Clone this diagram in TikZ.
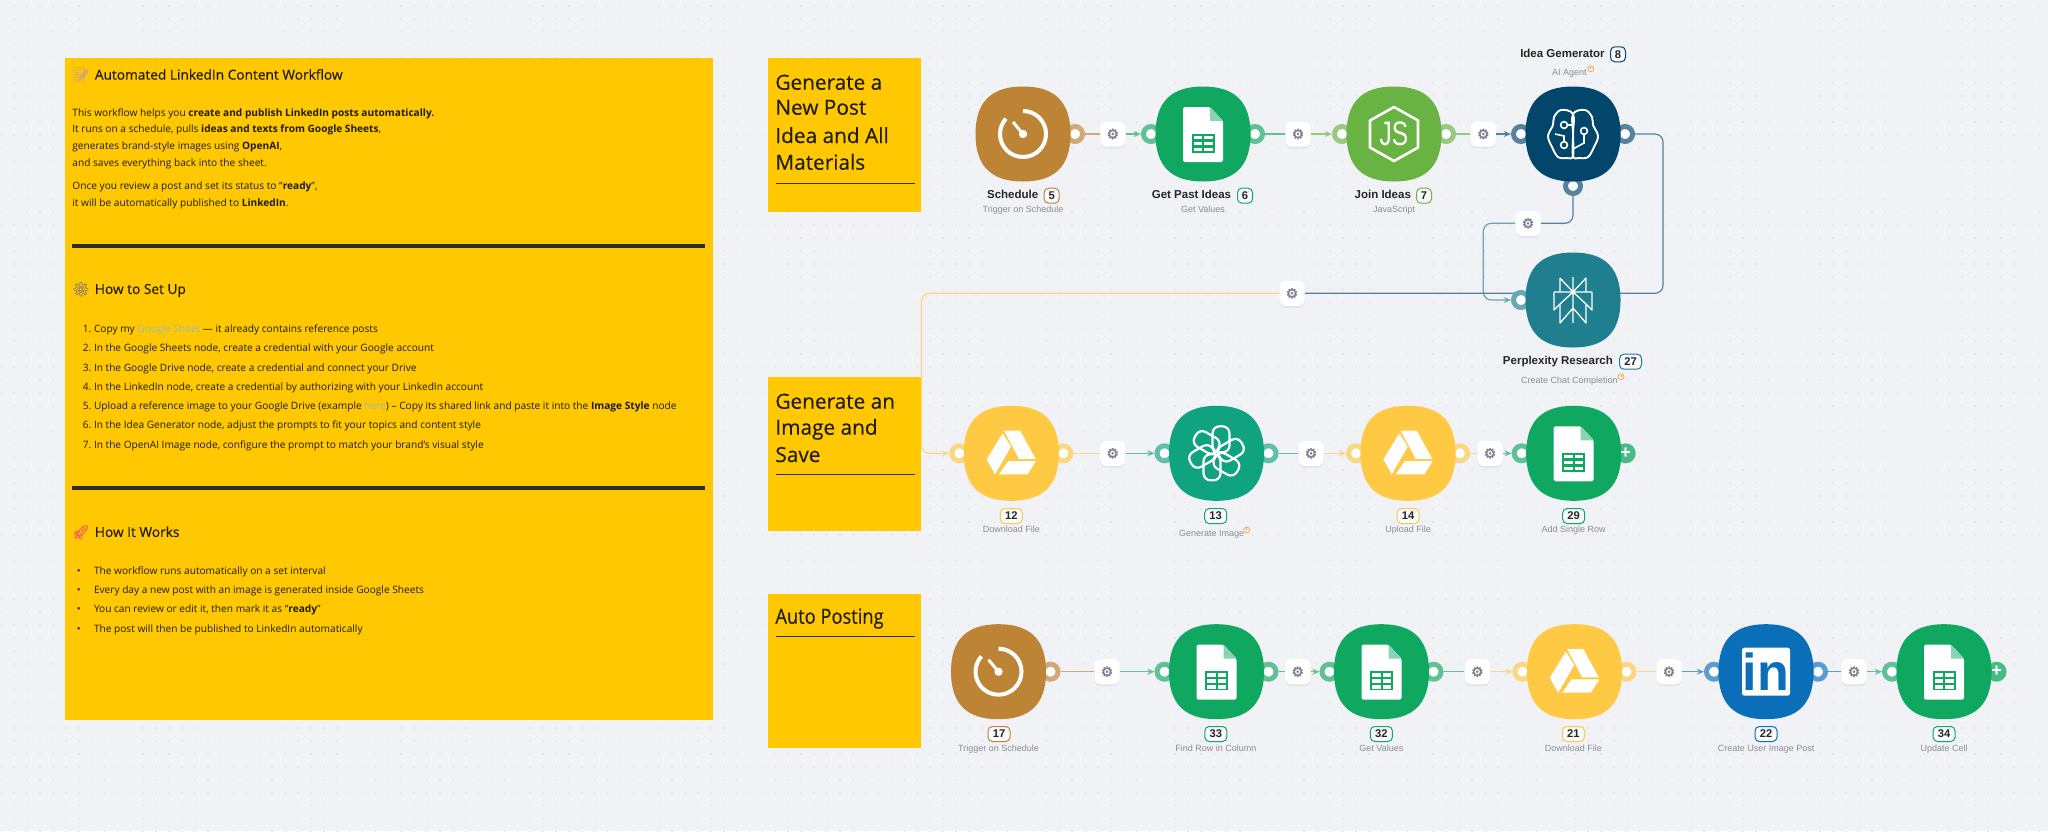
\documentclass[tikz,border=0pt]{standalone}
\usepackage{fontspec}
\setmainfont{Open Sans}
\newfontfamily\headfont[FakeBold=.35]{Open Sans}
\newfontfamily\labelfont{Liberation Sans}
\newfontfamily\emojifont[FakeBold=.8]{Noto Emoji}
\newfontfamily\symbfont[FakeBold=1.6]{DejaVu Sans}
\usetikzlibrary{calc,positioning,arrows.meta,shadows}

\definecolor{paper}{HTML}{F1F2F6}
\definecolor{paperdot}{HTML}{E6E8EE}
\definecolor{sticker}{HTML}{FFC800}
\definecolor{inkdark}{HTML}{1F1C10}
\definecolor{rulecol}{HTML}{2E2D28}
\definecolor{linkcol}{HTML}{9FB9B0}
\definecolor{clockcol}{HTML}{BC8434}
\definecolor{sheetcol}{HTML}{10A761}
\definecolor{foldcol}{HTML}{8AD3B0}
\definecolor{jscol}{HTML}{69B342}
\definecolor{agentcol}{HTML}{03466B}
\definecolor{perplexcol}{HTML}{1F7F8F}
\definecolor{drivecol}{HTML}{FFC944}
\definecolor{openaicol}{HTML}{10A37F}
\definecolor{linkedcol}{HTML}{0A6FB8}
\definecolor{gearcol}{HTML}{7D8090}
\definecolor{subcol}{HTML}{8A8C94}
\definecolor{warncol}{HTML}{F2A03D}

\pgfdeclarelayer{paperlayer}
\pgfdeclarelayer{wires}
\pgfsetlayers{paperlayer,wires,main}

\tikzset{
  stickerbox/.style={fill=sticker, minimum width=76.6pt, minimum height=76.7pt, inner sep=0, outer sep=0},
  bodyline/.style={anchor=west, inner sep=0, text=inkdark, text height=4pt, text depth=1.2pt, font=\fontsize{5.07}{6}\selectfont},
  panelhead/.style={anchor=west, inner sep=0, text=inkdark, text height=5pt, text depth=1.4pt, font=\headfont\fontsize{6.85}{8}\selectfont},
  emoji/.style={inner sep=0, font=\emojifont\fontsize{7}{8}\selectfont},
  stickerhead/.style={anchor=west, inner sep=0, text=inkdark, text height=8pt, text depth=2pt, font=\headfont\fontsize{10.4}{12}\selectfont},
  blobbox/.style={rectangle, minimum size=52pt, inner sep=0, outer sep=0},
  port/.style={circle, fill=white, draw=#1!65!paper, line width=2.5pt, minimum size=7.5pt, inner sep=0},
  plusnode/.style={circle, fill=#1!75!paper, minimum size=10pt, inner sep=0, text=white, font=\labelfont\bfseries\fontsize{9}{9}\selectfont},
  gearbox/.style={rectangle, fill=white, rounded corners=3pt, minimum size=12.5pt, inner sep=0,
    text=gearcol, font=\symbfont\fontsize{7}{7}\selectfont,
    drop shadow={opacity=.10, shadow xshift=0pt, shadow yshift=-1pt}},
  wire/.style={draw=#1!65!paper, line width=.6pt},
  tip/.style={-{Stealth[length=3.6pt,width=3pt]}},
  nodetitle/.style={anchor=east, inner sep=0, text=black!85, text height=4.2pt, text depth=1pt, font=\labelfont\bfseries\fontsize{5.75}{7}\selectfont},
  nodesub/.style={inner sep=0, text=subcol, text height=3.4pt, text depth=1pt, font=\labelfont\fontsize{4.5}{6}\selectfont},
  badge/.style={draw=#1, fill=white!60!paper, rounded corners=2.2pt, line width=.5pt, minimum height=7.5pt, minimum width=7.5pt, inner sep=0,
    text=black!85, font=\labelfont\bfseries\fontsize{5.6}{6}\selectfont},
  widebadge/.style={badge=#1, minimum width=11pt},
  warnicon/.pic={
    \draw[warncol, line width=.35pt] (0,0) circle (1.5pt);
    \draw[warncol, line width=.35pt] (0,-1.6) -- (0,.4);
  },
  clockicon/.pic={
    \draw[white, line width=2pt] (0,-23) arc[start angle=90, end angle=-222, radius=11.5pt];
    \draw[white, line width=1.5pt] (0,0) -- (-10,-12);
    \fill[white] (0,0) circle (2.1pt);
  },
  sheeticon/.pic={
    \fill[white, rounded corners=.8pt] (-20,-27) -- (7,-27) -- (20,-13) -- (20,28) -- (-20,28) -- cycle;
    \fill[foldcol] (7,-27) -- (20,-13) -- (7,-13) -- cycle;
    \fill[sheetcol] (-11.5,-.5) rectangle (11.5,18.5);
    \foreach \x/\y in {-9.5/1.5,1/1.5,-9.5/7.5,1/7.5,-9.5/13.5,1/13.5}
      \fill[white] (\x,\y) rectangle ++(8.5,3.5);
  },
  driveicon/.pic={
    \fill[white] (-7.3,-22.7) -- (8.7,-22.7) -- (24.3,5.7) -- (7.7,5.7) -- cycle;
    \fill[white] (-8.7,-20) -- (-24.7,6) -- (-16.3,21) -- (-.3,-6.7) -- cycle;
    \fill[white] (-3,7.7) -- (24.7,7.7) -- (16.3,21) -- (-12.3,21) -- cycle;
  },
  jsicon/.pic={
    \draw[white, line width=1.3pt, line join=round] (0,-27) -- (24,-13.5) -- (24,13.5) -- (0,27) -- (-24,13.5) -- (-24,-13.5) -- cycle;
    \node[inner sep=0, text=white, font=\labelfont\fontsize{17}{17}\selectfont] (jslogo) at (0,0) {\scalebox{.72}[1]{JS}};
  },
  brainicon/.pic={
    \draw[white, line width=.95pt, line join=round] plot[smooth cycle, tension=.6] coordinates
      {(0,-20) (-12,-24) (-19,-17) (-20,-9) (-25,2) (-21,13) (-15,23) (-6,24) (0,22) (0,0)};
    \draw[white, line width=.95pt, line join=round] plot[smooth cycle, tension=.6] coordinates
      {(0,-20) (12,-24) (19,-17) (20,-9) (25,2) (21,13) (15,23) (6,24) (0,22) (0,0)};
    \draw[white, line width=.8pt] (-9,-9) circle (1.7pt) (11,-3) circle (1.7pt) (-9,11) circle (1.7pt);
    \draw[white, line width=.8pt] (-5.5,-9) -- (0,-9) (11,.5) -- (11,9) -- (0,15) (-9,7.5) -- (-9,2) -- (-18,0);
  },
  perplexicon/.pic={
    \draw[white, line width=.65pt, line join=round]
      (0,-23) -- (0,23)
      (-13,-22) -- (0,-8) -- (13,-22) -- (13,-8) (-13,-22) -- (-13,-8)
      (-19,-8) -- (19,-8) -- (19,10) -- (13,4) (-19,-8) -- (-19,10) -- (-13,4)
      (0,-8) -- (-13,4) -- (-13,23) -- (0,8) -- (13,23) -- (13,4) -- (0,-8);
  },
  openaiicon/.pic={
    \foreach \a in {0,60,...,300}
      \draw[white, line width=1.1pt, rounded corners=3.5pt, rotate=\a] (-4,-27) rectangle (13,-1);
  },
  linkedicon/.pic={
    \fill[white, rounded corners=1.2pt] (-24,-24) rectangle (24,24);
    \node[inner sep=0, text=linkedcol, font=\labelfont\bfseries\fontsize{26}{26}\selectfont] (inlogo) at (0,0) {in};
  }
}

% name, x, y, colour, ports
\newcommand{\wfnode}[5]{
  \node[blobbox] (#1) at (#2,#3) {};
  \foreach \p in {#5} \node[port=#4] (#1-\p) at (#1.\p) {};
  \fill[#4, shift={(#1)}] (0,-47.5) .. controls (32,-47.5) and (47.5,-32) .. (47.5,0)
    .. controls (47.5,32) and (32,47.5) .. (0,47.5)
    .. controls (-32,47.5) and (-47.5,32) .. (-47.5,0)
    .. controls (-47.5,-32) and (-32,-47.5) .. (0,-47.5) -- cycle;
}
% from, gear, to, colour of the first part, colour of the second part
\newcommand{\wflink}[5]{
  \draw[wire=#4] (#1) -- (#2);
  \draw[wire=#5, tip] (#2) -- (#3);
}

\begin{document}
\begin{tikzpicture}[x=.5pt, y=-.5pt]
\useasboundingbox (0,0) rectangle (2048,831);

% canvas
\begin{pgfonlayer}{paperlayer}
\fill[paper] (0,0) rectangle (2048,831);
\foreach \i in {0,...,158}
  \draw[paperdot, line width=.8pt, dash pattern=on .8pt off 5.65pt] (\i*12.9+1.3,5) -- (\i*12.9+1.3,831);
\end{pgfonlayer}

% notes panel
\fill[sticker] (64.5,58) rectangle (713,720);
\node[emoji, text=clockcol!70!white] (memoicon) at (81,75) {^^^^^^01f4dd};
\node[panelhead] (panelhead1) at (94.5,76) {Automated LinkedIn Content Workflow};
\foreach \i/\y/\t in {1/113.3/{This workflow helps you \textbf{create and publish LinkedIn posts automatically.}},
    2/130/{It runs on a schedule, pulls \textbf{ideas and texts from Google Sheets},},
    3/146.7/{generates brand-style images using \textbf{OpenAI},},
    4/163.3/{and saves everything back into the sheet.},
    5/186.7/{Once you review a post and set its status to “\textbf{ready}”,},
    6/203.3/{it will be automatically published to \textbf{LinkedIn}.}}
  \node[bodyline] (intro\i) at (72,\y) {\t};
\fill[rulecol] (72,244) rectangle (705,248);

\node[emoji, text=gearcol!60!clockcol] (gearicon) at (81,289.3) {^^^^2699};
\node[panelhead] (panelhead2) at (94.5,290.3) {How to Set Up};
\foreach \i/\y/\t in {1/330/{Copy my \textcolor{linkcol}{Google Sheet} — it already contains reference posts},
    2/348.3/{In the Google Sheets node, create a credential with your Google account},
    3/368.3/{In the Google Drive node, create a credential and connect your Drive},
    4/387.7/{In the LinkedIn node, create a credential by authorizing with your LinkedIn account},
    5/406.7/{Upload a reference image to your Google Drive (example \textcolor{linkcol}{here}) – Copy its shared link and paste it into the \textbf{Image Style} node},
    6/426/{In the Idea Generator node, adjust the prompts to fit your topics and content style},
    7/445.3/{In the OpenAI Image node, configure the prompt to match your brand’s visual style}}
{
  \node[bodyline] (setupnum\i) at (82.4,\y) {\i.};
  \node[bodyline] (setup\i) at (93.6,\y) {\t};
}
\fill[rulecol] (72,486.3) rectangle (705,490.3);

\node[emoji, text=red!65!white] (rocketicon) at (81,532.3) {^^^^^^01f680};
\node[panelhead] (panelhead3) at (94.5,533.3) {How It Works};
\foreach \i/\y/\t in {1/571.7/{The workflow runs automatically on a set interval},
    2/591/{Every day a new post with an image is generated inside Google Sheets},
    3/610/{You can review or edit it, then mark it as “\textbf{ready}”},
    4/629.3/{The post will then be published to LinkedIn automatically}}
{
  \node[bodyline, anchor=center] (worksdot\i) at (78.8,\y) {\textbullet};
  \node[bodyline] (works\i) at (93.6,\y) {\t};
}

% first row
\wfnode{sched}{1023}{134}{clockcol}{east}
\pic at (sched) {clockicon};
\wfnode{pastideas}{1203}{134}{sheetcol}{west,east}
\pic at (pastideas) {sheeticon};
\wfnode{joinideas}{1394}{134}{jscol}{west,east}
\pic at (joinideas) {jsicon};
\wfnode{ideagen}{1573}{134}{agentcol}{west,east,south}
\pic at (ideagen) {brainicon};
\wfnode{perplex}{1573}{300}{perplexcol}{west}
\pic at (perplex) {perplexicon};

% second row
\wfnode{dlfile}{1011.3}{453.3}{drivecol}{west,east}
\pic at (dlfile) {driveicon};
\wfnode{genimage}{1216.5}{453.3}{openaicol}{west,east}
\pic at (genimage) {openaiicon};
\wfnode{upfile}{1408}{453.3}{drivecol}{west,east}
\pic at (upfile) {driveicon};
\node[plusnode=sheetcol] (addrowplus) at (1625.7,453.3) {+};
\wfnode{addrow}{1573.7}{453.3}{sheetcol}{west}
\pic at (addrow) {sheeticon};

% third row
\wfnode{trigger}{998.5}{671.7}{clockcol}{east}
\pic at (trigger) {clockicon};
\wfnode{findrow}{1216.5}{671.7}{sheetcol}{west,east}
\pic at (findrow) {sheeticon};
\wfnode{getvalues}{1381.5}{671.7}{sheetcol}{west,east}
\pic at (getvalues) {sheeticon};
\wfnode{dlpost}{1574.5}{671.7}{drivecol}{west,east}
\pic at (dlpost) {driveicon};
\wfnode{linkedin}{1766}{671.7}{linkedcol}{west,east}
\pic at (linkedin) {linkedicon};
\node[plusnode=sheetcol] (updateplus) at (1996.5,671.7) {+};
\wfnode{update}{1944}{671.7}{sheetcol}{west}
\pic at (update) {sheeticon};

% gears
\foreach \n/\x/\y in {g1/1112.8/134,g2/1298/134,g3/1483.3/134,g4/1528/223.3,g5/1292/293.3,
    g6/1112.7/453.3,g7/1311/453.3,g8/1490/453.3,
    g9/1107/671.7,g10/1297.7/671.7,g11/1477.3/671.7,g12/1669/671.7,g13/1854/671.7}
  \node[gearbox] (\n) at (\x,\y) {^^^^2699};

% connectors
\begin{pgfonlayer}{wires}
\wflink{sched-east}{g1}{pastideas-west}{clockcol}{sheetcol}
\wflink{pastideas-east}{g2}{joinideas-west}{sheetcol}{jscol}
\wflink{joinideas-east}{g3}{ideagen-west}{jscol}{agentcol}
\coordinate (loopa) at (ideagen-south |- g4);
\coordinate (loopb) at (1483.3,223.3);
\coordinate (loopc) at (1483.3,300);
\draw[wire=agentcol, rounded corners=4pt] (ideagen-south) -- (loopa) -- (g4);
\draw[wire=perplexcol, rounded corners=4pt, tip] (g4) -- (loopb) -- (loopc) -- (perplex-west);
\coordinate (backa) at (1663,134);
\coordinate (backb) at (1663,293.3);
\coordinate (backc) at (921.5,293.3);
\coordinate (backd) at (921.5,453.3);
\draw[wire=agentcol, rounded corners=4pt] (ideagen-east) -- (backa) -- (backb) -- (g5);
\draw[wire=drivecol, rounded corners=4pt, tip] (g5) -- (backc) -- (backd) -- (dlfile-west);
\wflink{dlfile-east}{g6}{genimage-west}{drivecol}{openaicol}
\wflink{genimage-east}{g7}{upfile-west}{openaicol}{drivecol}
\wflink{upfile-east}{g8}{addrow-west}{drivecol}{sheetcol}
\wflink{trigger-east}{g9}{findrow-west}{clockcol}{sheetcol}
\wflink{findrow-east}{g10}{getvalues-west}{sheetcol}{sheetcol}
\wflink{getvalues-east}{g11}{dlpost-west}{sheetcol}{drivecol}
\wflink{dlpost-east}{g12}{linkedin-west}{drivecol}{linkedcol}
\wflink{linkedin-east}{g13}{update-west}{linkedcol}{sheetcol}
\end{pgfonlayer}

% section stickers
\node[stickerbox] (stickera) at (844.5,135) {};
\foreach \i/\y/\t in {1/83.7/Generate a,2/108.7/New Post,3/137/Idea and All,4/163.7/Materials}
  \node[stickerhead] (stickera\i) at (775,\y) {\t};
\draw[rulecol, line width=.6pt] (775.7,183.3) -- (915,183.3);
\node[stickerbox] (stickerb) at (844.5,454) {};
\foreach \i/\y/\t in {1/402.7/Generate an,2/428.7/Image and,3/456/Save}
  \node[stickerhead] (stickerb\i) at (775,\y) {\t};
\draw[rulecol, line width=.6pt] (775.7,474.7) -- (915,474.7);
\node[stickerbox] (stickerc) at (844.5,671) {};
\node[stickerhead] (stickerc1) at (775,617.7) {\scalebox{.88}[1]{Auto Posting}};
\draw[rulecol, line width=.6pt] (775.7,636.7) -- (915,636.7);

% labels with a title
\foreach \n/\x/\y/\t in {sched/1038.6/195.7/Schedule,pastideas/1231.5/195.7/Get Past Ideas,joinideas/1411.3/195.7/Join Ideas,
    ideagen/1605/54.3/Idea Gemerator,perplex/1613.3/361.7/Perplexity Research}
  \node[nodetitle] (\n-title) at (\x,\y) {\t};
\node[badge=clockcol] (sched-badge) at (1051.6,195.7) {5};
\node[badge=sheetcol] (pastideas-badge) at (1245,195.7) {6};
\node[badge=jscol] (joinideas-badge) at (1424,195.7) {7};
\node[badge=agentcol] (ideagen-badge) at (1618,54.3) {8};
\node[widebadge=perplexcol] (perplex-badge) at (1630.5,361.7) {27};

% badges without a title
\foreach \n/\x/\y/\t/\c in {dlfile/1011.3/516/12/drivecol,genimage/1215.7/516/13/openaicol,upfile/1408/516/14/drivecol,addrow/1573.7/516/29/sheetcol,
    trigger/999/734/17/clockcol,findrow/1215.8/734/33/sheetcol,getvalues/1381.4/734/32/sheetcol,dlpost/1573.4/734/21/drivecol,linkedin/1766/734/22/linkedcol,update/1944/734/34/sheetcol}
  \node[widebadge=\c] (\n-badge) at (\x,\y) {\t};

% subtitles
\foreach \n/\x/\y/\t in {sched/1023/210.3/Trigger on Schedule,pastideas/1203/210.3/Get Values,joinideas/1394/210.3/JavaScript,
    ideagen/1569.3/72.7/AI Agent,perplex/1569.3/380.7/Create Chat Completion,
    dlfile/1011.3/530.3/Download File,genimage/1211.7/534/Generate Image,upfile/1408/530.3/Upload File,addrow/1573.7/530.3/Add Single Row,
    trigger/998.5/748.7/Trigger on Schedule,findrow/1215.8/748.7/Find Row in Column,getvalues/1381.4/748.7/Get Values,
    dlpost/1573.4/748.7/Download File,linkedin/1766/748.7/Create User Image Post,update/1944/748.7/Update Cell}
  \node[nodesub] (\n-sub) at (\x,\y) {\t};
\pic at (1590.7,68.7) {warnicon};
\pic at (1621,376.7) {warnicon};
\pic at (1246.7,530) {warnicon};
\end{tikzpicture}
\end{document}
